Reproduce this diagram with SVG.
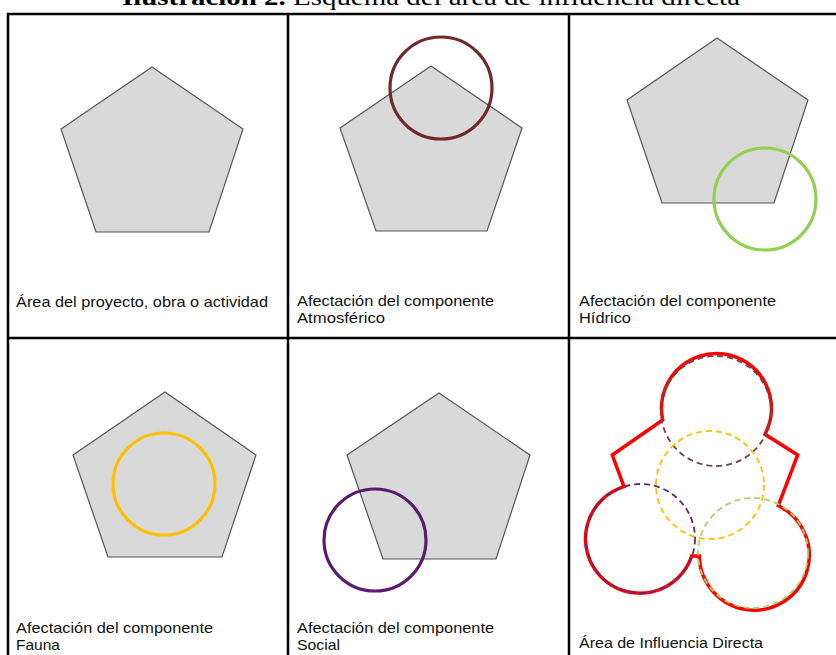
<svg xmlns="http://www.w3.org/2000/svg" width="836" height="655" viewBox="0 0 836 655">
<style>
.grid{stroke:#000;stroke-width:2.5;fill:none}
.pent{fill:#d9d9d9;stroke:#555;stroke-width:1.2}
.lbl{font-family:"Liberation Sans",Arial,sans-serif;font-size:15px;fill:#111}
.ring{fill:none;stroke-width:3.2}
.dash{fill:none;stroke-width:1.8;stroke-dasharray:6 4}
</style>
<rect width="836" height="655" fill="#fff"/>
<text x="122" y="5" textLength="618" lengthAdjust="spacingAndGlyphs" font-family="'Liberation Serif','Times New Roman',serif" font-size="24" fill="#000"><tspan font-weight="bold">Ilustración 2.</tspan> Esquema del área de influencia directa</text>
<g id="grid">
<path class="grid" d="M8,655 V14 H840 M288,14 V655 M569,14 V655 M8,338 H840"/>
</g>
<g id="panel1">
<polygon class="pent" points="152,67 243,129 209,232 96,232 61,129"/>
<text class="lbl" x="16" y="307" textLength="252" lengthAdjust="spacingAndGlyphs">Área del proyecto, obra o actividad</text>
</g>
<g id="panel2">
<polygon class="pent" points="431,66 522,128 487,231 376,231 340,128"/>
<circle class="ring" cx="441" cy="88" r="51" stroke="#6e2a2a"/>
<text class="lbl" x="297" y="306" textLength="197" lengthAdjust="spacingAndGlyphs">Afectación del componente</text>
<text class="lbl" x="297" y="323" textLength="88" lengthAdjust="spacingAndGlyphs">Atmosférico</text>
</g>
<g id="panel3">
<polygon class="pent" points="717,38 808,100 774,203 662,203 627,100"/>
<circle class="ring" cx="765" cy="199" r="51" stroke="#92d050"/>
<text class="lbl" x="579" y="306" textLength="197" lengthAdjust="spacingAndGlyphs">Afectación del componente</text>
<text class="lbl" x="579" y="323" textLength="52" lengthAdjust="spacingAndGlyphs">Hídrico</text>
</g>
<g id="panel4">
<polygon class="pent" points="165,392 256,455 222,557 108,557 73,455"/>
<circle class="ring" cx="164" cy="484" r="51" stroke="#ffc000"/>
<text class="lbl" x="16" y="633" textLength="197" lengthAdjust="spacingAndGlyphs">Afectación del componente</text>
<text class="lbl" x="16" y="650" textLength="44" lengthAdjust="spacingAndGlyphs">Fauna</text>
</g>
<g id="panel5">
<polygon class="pent" points="439,393 530,455 496,559 383,559 347,455"/>
<circle class="ring" cx="375" cy="540" r="51" stroke="#5c1a6e"/>
<text class="lbl" x="297" y="633" textLength="197" lengthAdjust="spacingAndGlyphs">Afectación del componente</text>
<text class="lbl" x="297" y="650" textLength="43" lengthAdjust="spacingAndGlyphs">Social</text>
</g>
<g id="panel6">
<path fill="none" stroke="#ff0000" stroke-width="3.5" stroke-linejoin="miter" d="M662.7,420 L612.3,455 L624,486.7 A54.5,54.5 0 1 0 691.7,556 L699.3,556 A55,55 0 1 0 778.3,505.7 L797.7,455 L765,434.3 A55,55 0 1 0 662.7,420 Z"/>
<circle class="dash" cx="716" cy="411" r="55" stroke="#6b4848"/>
<circle class="dash" cx="710" cy="485" r="54" stroke="#ffc000"/>
<circle class="dash" cx="640.5" cy="538.5" r="54.5" stroke="#5c2a6e"/>
<circle class="dash" cx="753" cy="553" r="55" stroke="#a9d46a"/>
<text class="lbl" x="579" y="648" textLength="184" lengthAdjust="spacingAndGlyphs">Área de Influencia Directa</text>
</g>
</svg>
